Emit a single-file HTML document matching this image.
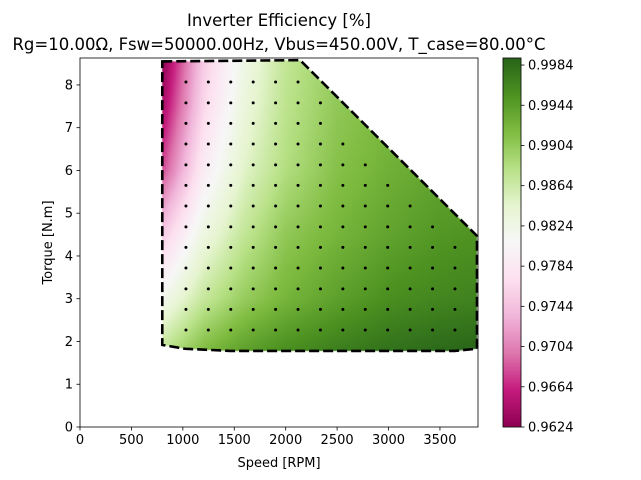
<!DOCTYPE html>
<html><head><meta charset="utf-8"><style>
body{margin:0;background:#fff;}
#wrap{position:relative;width:641px;height:480px;overflow:hidden;font-family:"DejaVu Sans","Liberation Sans",sans-serif;}
canvas,svg{position:absolute;left:0;top:0;}
</style></head><body>
<div id="wrap">
<canvas id="cv" width="641" height="480"></canvas>
<svg id="sv" width="641" height="480"></svg>
</div>
<script>
// ---- data ----
const fieldSpeeds = [800,1200,1600,2000,2500,3000,3500,3900];
const fieldTorques = [1.8,3,4.5,6,7.5,8.6];
const fieldEff = [
 [0.9873,0.9917,0.9942,0.9957,0.9970,0.9980,0.9986,0.9990],
 [0.9818,0.9870,0.9902,0.9924,0.9942,0.9957,0.9964,0.9967],
 [0.9752,0.9828,0.9873,0.9906,0.9924,0.9939,0.9950,0.9954],
 [0.9679,0.9789,0.9848,0.9884,0.9913,0.9928,0.9939,0.9942],
 [0.9642,0.9763,0.9833,0.9877,0.9906,0.9920,0.9928,0.9931],
 [0.9624,0.9752,0.9825,0.9873,0.9902,0.9913,0.9920,0.9920]
];
const dotSpeeds = [1030,1248,1466,1684,1902,2120,2338,2556,2774,2992,3210,3428,3646];
const dotTorques = [2.27,2.75,3.23,3.72,4.20,4.68,5.17,5.65,6.13,6.62,7.10,7.58,8.07];
const dotRowCounts = [13,13,13,13,13,12,11,10,9,8,7,7,6];
const boundarySpeeds = [800,2140,3860,3860,3645,1460,1020,800];
const boundaryTorques = [8.55,8.58,4.47,1.83,1.78,1.78,1.83,1.92];
const xTicks = [0,500,1000,1500,2000,2500,3000,3500];
const yTicks = [0,1,2,3,4,5,6,7,8];
const cbTicks = [0.9624,0.9664,0.9704,0.9744,0.9784,0.9824,0.9864,0.9904,0.9944,0.9984];
const cbMin = 0.9624, cbMax = 0.9991;

// ---- scales ----
const X0=80,X1=478,Y0=427,Y1=58;
const xMax=3870,yMax=8.63;
const xs=s=>X0+s/xMax*(X1-X0);
const ys=t=>Y0-t/yMax*(Y0-Y1);
const CBX=503,CBW=18;
const cbY=v=>Y0-(v-cbMin)/(cbMax-cbMin)*(Y0-Y1);

const stops=[[142,1,82],[197,27,125],[222,119,174],[241,182,218],[253,224,239],[247,247,247],[230,245,208],[184,225,134],[127,188,65],[77,146,33],[39,100,25]];
function cmap(v){let t=(v-cbMin)/(cbMax-cbMin);t=Math.max(0,Math.min(1,t))*10;let i=Math.min(9,Math.floor(t)),f=t-i;const a=stops[i],b=stops[i+1];return [0,1,2].map(k=>Math.round(a[k]+(b[k]-a[k])*f));}
function idx(arr,v){let i=0;while(i<arr.length-2&&v>arr[i+1])i++;let f=(v-arr[i])/(arr[i+1]-arr[i]);return [i,Math.max(0,Math.min(1,f))];}
function field(s,t){const [i,fx]=idx(fieldSpeeds,s),[j,fy]=idx(fieldTorques,t);
 const a=fieldEff[j][i],b=fieldEff[j][i+1],c=fieldEff[j+1][i],d=fieldEff[j+1][i+1];
 return (a*(1-fx)+b*fx)*(1-fy)+(c*(1-fx)+d*fx)*fy;}

// ---- canvas contour + colorbar ----
const cv=document.getElementById('cv'),ctx=cv.getContext('2d');
ctx.save();ctx.beginPath();
boundarySpeeds.forEach((s,k)=>{const px=xs(s),py=ys(boundaryTorques[k]);k?ctx.lineTo(px,py):ctx.moveTo(px,py);});
ctx.closePath();ctx.clip();
for(let px=X0;px<X1;px+=2){for(let py=Y1;py<Y0;py+=2){
 const s=(px+1-X0)/(X1-X0)*xMax,t=(Y0-py-1)/(Y0-Y1)*yMax;
 const c=cmap(field(s,t));ctx.fillStyle=`rgb(${c[0]},${c[1]},${c[2]})`;ctx.fillRect(px,py,2,2);}}
ctx.restore();
for(let py=Y1;py<Y0;py++){const v=cbMin+(Y0-py-0.5)/(Y0-Y1)*(cbMax-cbMin);const c=cmap(v);ctx.fillStyle=`rgb(${c[0]},${c[1]},${c[2]})`;ctx.fillRect(CBX,py,CBW,1);}

// ---- svg ----
const NS='http://www.w3.org/2000/svg',sv=document.getElementById('sv');
function el(tag,attrs,parent){const e=document.createElementNS(NS,tag);for(const k in attrs)e.setAttribute(k,attrs[k]);(parent||sv).appendChild(e);return e;}
function txt(str,attrs){const e=el('text',attrs);e.textContent=str;return e;}

let pts=boundarySpeeds.map((s,k)=>xs(s)+','+ys(boundaryTorques[k])).join(' ');
const poly=el('polygon',{points:pts,fill:'none',stroke:'#000','stroke-width':2.6,'stroke-dasharray':'10,4'});



dotTorques.forEach((t,r)=>{for(let c=0;c<dotRowCounts[r];c++){
 const d=el('circle',{cx:xs(dotSpeeds[c]),cy:ys(t),r:1.5,fill:'#000'});
 
 
}});

const frame=el('rect',{x:X0,y:Y1,width:X1-X0,height:Y0-Y1,fill:'none',stroke:'#000','stroke-width':0.8});


xTicks.forEach(v=>{el('line',{x1:xs(v),x2:xs(v),y1:Y0,y2:Y0+3.5,stroke:'#000','stroke-width':0.8});
 const t=txt(String(v),{x:xs(v),y:Y0+17,'font-size':13,'text-anchor':'middle'});
 
 });
yTicks.forEach(v=>{el('line',{x1:X0,x2:X0-3.5,y1:ys(v),y2:ys(v),stroke:'#000','stroke-width':0.8});
 const t=txt(String(v),{x:X0-7,y:ys(v)+4.5,'font-size':13,'text-anchor':'end'});
 
 });
const cbf=el('rect',{x:CBX,y:Y1,width:CBW,height:Y0-Y1,fill:'none',stroke:'#000','stroke-width':0.8});


cbTicks.forEach(v=>{el('line',{x1:CBX+CBW,x2:CBX+CBW+3.5,y1:cbY(v),y2:cbY(v),stroke:'#000','stroke-width':0.8});
 const t=txt(v.toFixed(4),{x:CBX+CBW+7,y:cbY(v)+4.5,'font-size':13});
 
 });
let t1=txt('Inverter Efficiency [%]',{x:279,y:26,'font-size':16.5,'text-anchor':'middle'});


let t2=txt('Rg=10.00Ω, Fsw=50000.00Hz, Vbus=450.00V, T_case=80.00°C',{x:279,y:50,'font-size':16.5,'text-anchor':'middle'});


let xl=txt('Speed [RPM]',{x:279,y:467,'font-size':13,'text-anchor':'middle'});


let yl=txt('Torque [N.m]',{x:0,y:0,'font-size':13,'text-anchor':'middle',transform:`translate(52,${(Y0+Y1)/2}) rotate(-90)`});


</script>
</body></html>
